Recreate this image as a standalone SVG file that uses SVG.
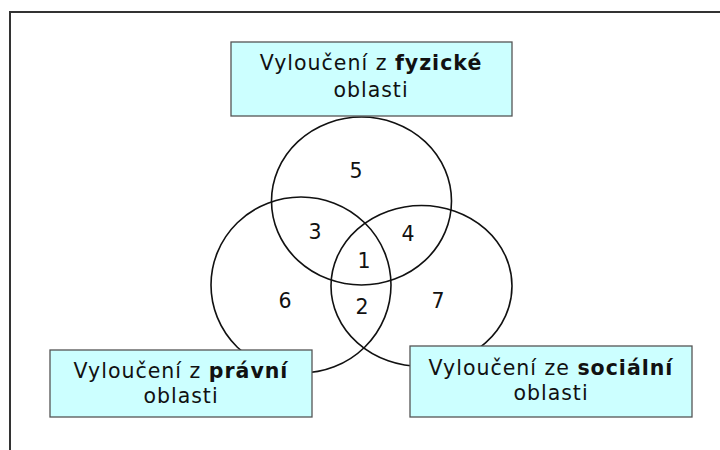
<svg xmlns="http://www.w3.org/2000/svg" width="720" height="450" viewBox="0 0 720 450">
<style>
.frame{fill:none;stroke:#333;stroke-width:2}
.box{fill:#ccffff;stroke:#555;stroke-width:1.3}
.set{fill:none;stroke:#111;stroke-width:1.6}
.lbl{font-family:"DejaVu Sans",Verdana,sans-serif;font-size:20.5px;letter-spacing:1px;fill:#111;text-anchor:middle}
.num{font-family:"DejaVu Sans",Verdana,sans-serif;font-size:20.5px;fill:#111;text-anchor:middle}
.b{font-weight:bold}
</style>
<rect width="720" height="450" fill="#fff"/>
<path class="frame" d="M10,452 V12 H722"/>
<g id="connectors">
<ellipse id="set-fyzicke" class="set" cx="361.5" cy="201" rx="90" ry="84"/>
<ellipse id="set-pravni" class="set" cx="301" cy="285" rx="90" ry="88"/>
<ellipse id="set-socialni" class="set" cx="421.5" cy="286" rx="90.5" ry="80.5"/>
</g>
<g id="numbers">
<text class="num" x="356" y="178">5</text>
<text class="num" x="315" y="239">3</text>
<text class="num" x="408" y="241">4</text>
<text class="num" x="364" y="268">1</text>
<text class="num" x="285" y="308">6</text>
<text class="num" x="362" y="314">2</text>
<text class="num" x="438" y="308">7</text>
</g>
<g id="node-fyzicke">
<rect class="box" x="231" y="42" width="281" height="74"/>
<text class="lbl" x="371" y="70">Vyloučení z <tspan class="b">fyzické</tspan></text>
<text class="lbl" x="371" y="97">oblasti</text>
</g>
<g id="node-pravni">
<rect class="box" x="50" y="350" width="262" height="67"/>
<text class="lbl" x="181" y="378">Vyloučení z <tspan class="b">právní</tspan></text>
<text class="lbl" x="181" y="403">oblasti</text>
</g>
<g id="node-socialni">
<rect class="box" x="410" y="346" width="282" height="71"/>
<text class="lbl" x="551" y="375">Vyloučení ze <tspan class="b">sociální</tspan></text>
<text class="lbl" x="551" y="400">oblasti</text>
</g>
</svg>
